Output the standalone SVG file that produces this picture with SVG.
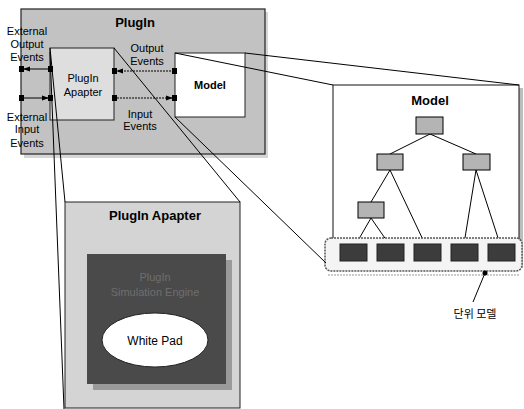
<svg xmlns="http://www.w3.org/2000/svg" width="524" height="409" viewBox="0 0 524 409">
<style>
text{font-family:"Liberation Sans",Arial,sans-serif;fill:#000}
.b{font-weight:bold}
.s{font-size:11px}
.ln{stroke:#000;stroke-width:1;fill:none}
.dot{stroke:#000;stroke-width:1;stroke-dasharray:2 1;fill:none}
.port{fill:#000}
.tn{fill:#b4b4b4;stroke:#000;stroke-width:1}
.lf{fill:#3c3c3c;stroke:#222;stroke-width:1}
</style>
<defs>
<marker id="ah" viewBox="0 0 8 8" refX="7" refY="4" markerWidth="7" markerHeight="7" orient="auto" markerUnits="userSpaceOnUse">
<path d="M0,1 L8,4 L0,7 z" fill="#000"/>
</marker>
</defs>
<rect width="524" height="409" fill="#fff"/>

<g id="plugin">
<rect x="24" y="12" width="244" height="146" fill="#d6d6d6"/>
<rect x="21" y="9" width="244" height="145" fill="#c2c2c2" stroke="#222" stroke-width="1.2"/>
<text x="135" y="27" class="b" font-size="13" text-anchor="middle">PlugIn</text>
</g>

<g id="ext-out">
<text class="s" x="27" y="35" text-anchor="middle">External</text>
<text class="s" x="27" y="48" text-anchor="middle">Output</text>
<text class="s" x="27" y="61" text-anchor="middle">Events</text>
</g>
<g id="ext-in">
<text class="s" x="27" y="121" text-anchor="middle">External</text>
<text class="s" x="27" y="133" text-anchor="middle">Input</text>
<text class="s" x="27" y="147" text-anchor="middle">Events</text>
</g>

<g id="adapter">
<rect x="50" y="48" width="64" height="72" fill="#dedede" stroke="#222" stroke-width="1"/>
<text class="s" x="83" y="82" text-anchor="middle">PlugIn</text>
<text class="s" x="83" y="96" text-anchor="middle">Apapter</text>
</g>

<g id="model">
<rect x="175" y="53" width="70" height="64" fill="#fff" stroke="#222" stroke-width="1"/>
<text class="b s" x="210" y="89" text-anchor="middle">Model</text>
</g>

<g id="out-events">
<text class="s" x="147" y="52" text-anchor="middle">Output</text>
<text class="s" x="147" y="65" text-anchor="middle">Events</text>
</g>
<g id="in-events">
<text class="s" x="140" y="118" text-anchor="middle">Input</text>
<text class="s" x="140" y="130" text-anchor="middle">Events</text>
</g>

<g id="adapter-detail">
<rect x="65" y="202" width="175" height="206" fill="#d4d4d4" stroke="#222" stroke-width="1"/>
<text x="155" y="220" class="b" font-size="13" text-anchor="middle">PlugIn Apapter</text>
</g>
<g id="sim-engine">
<rect x="93" y="260" width="139" height="130" fill="#9a9a9a"/>
<rect x="87" y="254" width="139" height="130" fill="#4a4a4a"/>
<text x="155" y="281" class="s" fill="#6e6e6e" style="fill:#6e6e6e" text-anchor="middle">PlugIn</text>
<text x="155" y="296" class="s" style="fill:#6e6e6e" text-anchor="middle">Simulation Engine</text>
</g>
<g id="white-pad">
<ellipse cx="155" cy="340" rx="53" ry="27" fill="#fff" stroke="#222" stroke-width="1"/>
<text x="155" y="345" font-size="12" text-anchor="middle">White Pad</text>
</g>

<g id="model-detail">
<rect x="337" y="88" width="186" height="180" fill="#bdbdbd"/>
<rect x="333" y="85" width="186" height="177" fill="#fff" stroke="#111" stroke-width="1"/>
<text x="430" y="105" class="b" font-size="13" text-anchor="middle">Model</text>
</g>

<g id="tree-edges">
<path class="ln" d="M430,134 L390,154 M430,134 L476,154 M390,170 L371,202 M390,170 L425,244 M476,170 L464,244 M476,170 L500,244 M371,218 L356,244 M371,218 L389,244"/>
</g>
<g id="tree-nodes">
<rect class="tn" x="416" y="117" width="27" height="17"/>
<rect class="tn" x="377" y="154" width="26" height="16"/>
<rect class="tn" x="463" y="154" width="27" height="16"/>
<rect class="tn" x="358" y="202" width="26" height="16"/>
</g>

<g id="unit-models">
<rect x="325" y="238" width="197" height="33" rx="6" fill="#f4f4f4" stroke="#555" stroke-width="1.5" stroke-dasharray="2 1"/>
<line x1="328" y1="275" x2="520" y2="275" stroke="#999" stroke-width="1" stroke-dasharray="2 1"/>
<rect class="lf" x="340" y="244" width="27" height="17"/>
<rect class="lf" x="377" y="244" width="27" height="17"/>
<rect class="lf" x="414" y="244" width="27" height="17"/>
<rect class="lf" x="451" y="244" width="27" height="17"/>
<rect class="lf" x="488" y="244" width="27" height="17"/>
</g>

<g id="unit-label">
<circle cx="485" cy="273" r="2.5" fill="#000"/>
<line class="ln" x1="485" y1="273" x2="473" y2="302"/>
<text x="475" y="318" font-size="11" text-anchor="middle" style="font-family:'Noto Sans CJK KR','Liberation Sans',sans-serif">단위 모델</text>
</g>

<g id="connectors">
<line class="ln" x1="50" y1="69" x2="24" y2="69" marker-end="url(#ah)"/>
<line class="ln" x1="21" y1="98" x2="48" y2="98" marker-end="url(#ah)"/>
<line class="dot" x1="174" y1="71" x2="117" y2="71" marker-end="url(#ah)"/>
<line class="dot" x1="114" y1="98" x2="172" y2="98" marker-end="url(#ah)"/>
<rect class="port" x="19" y="66" width="5" height="6"/>
<rect class="port" x="19" y="95" width="5" height="6"/>
<rect class="port" x="48" y="66" width="5" height="6"/>
<rect class="port" x="48" y="95" width="5" height="6"/>
<rect class="port" x="112" y="68" width="5" height="6"/>
<rect class="port" x="112" y="95" width="5" height="6"/>
<rect class="port" x="172" y="68" width="5" height="6"/>
<rect class="port" x="172" y="95" width="5" height="6"/>
<line class="ln" x1="50" y1="48" x2="65" y2="202"/>
<line class="ln" x1="50" y1="52" x2="64" y2="409"/>
<line class="ln" x1="114" y1="48" x2="240" y2="202"/>
<line class="ln" x1="175" y1="53" x2="333" y2="85"/>
<line class="ln" x1="245" y1="53" x2="519" y2="85"/>
<line class="ln" x1="175" y1="117" x2="326" y2="263"/>
</g>
</svg>
